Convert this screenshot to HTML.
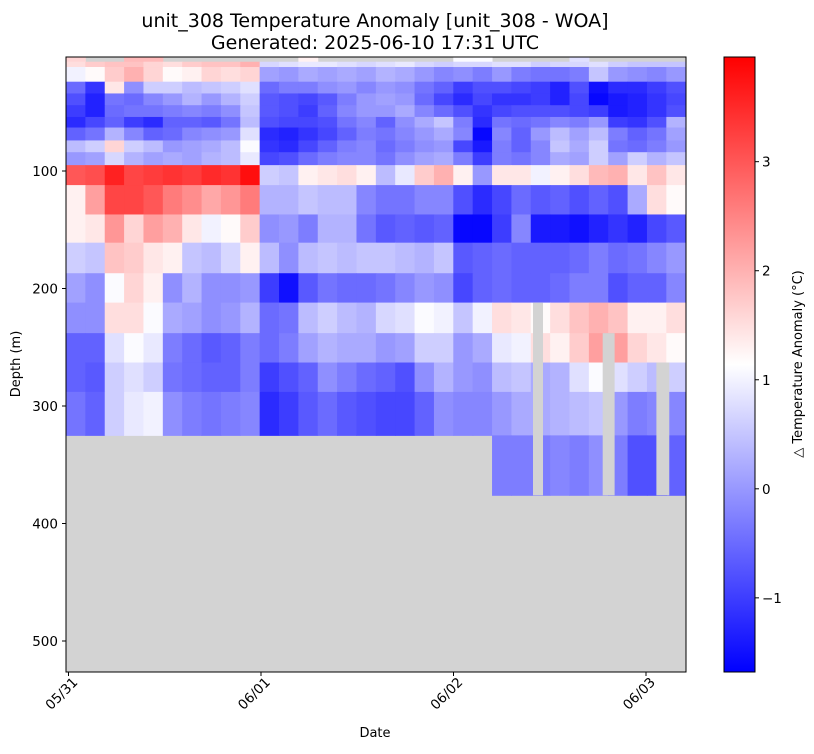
<!DOCTYPE html>
<html><head><meta charset="utf-8"><style>
body{margin:0;background:#fff;}
svg text{font-family:"DejaVu Sans","Liberation Sans",sans-serif;fill:#000;}
</style></head><body>
<svg id="chart" width="814" height="749" viewBox="0 0 814 749" xmlns="http://www.w3.org/2000/svg">
<text x="375" y="27" font-size="19" text-anchor="middle">unit_308 Temperature Anomaly [unit_308 - WOA]</text>
<text x="375" y="49" font-size="19" text-anchor="middle">Generated: 2025-06-10 17:31 UTC</text>
<rect x="66" y="57" width="620" height="615" fill="#d3d3d3"/>
<g id="cells"></g>
<g id="gaps"></g>
<rect x="66" y="57" width="620" height="615" fill="none" stroke="#000" stroke-width="1"/>
<g id="yaxis"></g>
<g id="xaxis"></g>
<text transform="translate(20,364) rotate(-90)" font-size="13" text-anchor="middle">Depth (m)</text>
<text x="375" y="737" font-size="13" text-anchor="middle">Date</text>
<defs><linearGradient id="bwr" x1="0" y1="1" x2="0" y2="0">
<stop offset="0" stop-color="#0000ff"/><stop offset="0.5" stop-color="#ffffff"/><stop offset="1" stop-color="#ff0000"/></linearGradient></defs>
<rect x="724" y="57" width="31" height="615" fill="url(#bwr)" stroke="#000" stroke-width="1"/>
<g id="cbaxis"></g>
<text transform="translate(802,364) rotate(-90)" font-size="13" text-anchor="middle">△ Temperature Anomaly (°C)</text>
</svg>
<script>
const depthEdges=[3,7,11.5,24,34,44,54,63,74,84,95,112,137,161,187,212,238,263,288,325,376];
const colStart=-0.013, colStep=0.1006;
const N=null;
const anomaly=[
[1.6,N,N,1.9,1.9,N,N,N,N,N,N,N,1.3,N,N,N,N,N,N,N,1.1,1.1,N,N,N,N,0.8,N,N,N,N,N],
[1.5,1.7,1.8,1.8,1.6,1.5,1.7,1.8,1.8,2.0,0.7,0.8,0.9,0.9,0.8,0.7,0.8,0.9,0.7,0.6,0.7,0.7,0.8,0.8,0.6,0.7,0.7,0.8,0.6,0.5,0.5,0.5],
[1.0,1.2,1.7,2.0,1.6,1.2,1.3,1.6,1.5,1.6,0.1,0.0,0.2,0.1,0.2,0.1,0.3,0.2,0.0,-0.2,-0.1,-0.3,0.0,-0.3,-0.4,-0.4,-0.3,0.5,0.0,-0.1,-0.2,0.0],
[-0.5,-1.1,1.4,-0.1,0.6,0.6,0.4,0.5,0.6,0.8,-0.5,-0.3,-0.3,-0.1,0.0,-0.2,0.0,-0.1,-0.4,-0.6,-1.0,-0.8,-0.8,-0.9,-1.0,-1.3,-0.8,-1.5,-1.2,-1.2,-1.0,-0.8],
[-0.8,-1.3,-0.4,-0.5,-0.2,0.0,0.3,0.0,0.3,0.6,-0.7,-0.8,-0.9,-0.7,-0.3,0.0,0.1,0.0,-0.5,-0.9,-1.2,-0.9,-1.1,-1.1,-1.0,-1.3,-0.9,-1.6,-1.4,-1.3,-1.1,-0.9],
[-1.0,-1.3,-0.5,-0.4,-0.4,-0.3,-0.2,-0.3,-0.1,0.5,-0.7,-0.8,-1.0,-0.6,-0.2,0.0,0.0,0.2,-0.2,-0.5,-0.8,-1.1,-0.9,-0.8,-0.8,-0.8,-0.9,-1.0,-1.4,-1.3,-1.1,-0.8],
[-1.2,-0.9,-0.6,-1.0,-1.2,-0.6,-0.6,-0.7,-0.4,0.4,-0.8,-0.9,-0.9,-0.8,-0.4,-0.2,-0.6,-0.1,0.2,0.5,-0.3,-1.2,-0.4,-0.5,-0.4,-0.2,-0.3,0.0,-1.0,-1.1,-0.8,0.3],
[-0.6,-0.4,0.3,-0.2,-0.6,-0.5,-0.2,-0.1,0.0,0.8,-1.2,-1.3,-1.1,-0.9,-0.6,-0.3,-0.4,-0.2,0.0,0.2,-0.2,-1.6,-0.2,-0.6,0.0,0.4,0.1,0.4,-0.3,-0.6,-0.4,0.1],
[0.4,0.6,1.6,0.6,0.4,0.0,0.1,0.2,0.4,1.1,-1.1,-1.2,-0.9,-0.6,-0.3,-0.2,-0.5,-0.3,-0.1,0.0,-0.9,-1.4,-0.3,-0.6,-0.2,0.5,0.2,0.6,-0.4,-0.5,-0.3,0.0],
[0.0,0.1,0.7,0.3,0.1,0.2,0.1,0.3,0.4,0.9,-0.9,-0.8,-0.5,-0.3,-0.2,-0.2,-0.4,-0.1,0.1,0.2,-0.3,-1.0,-0.3,-0.4,-0.2,0.2,0.1,0.6,0.1,0.6,0.3,0.5],
[3.0,3.1,3.6,3.2,3.3,3.4,3.3,3.5,3.4,3.8,0.6,0.5,1.3,1.4,1.5,1.3,0.4,0.9,1.7,2.0,1.3,0.0,1.4,1.4,1.0,1.3,1.5,1.9,2.0,1.4,1.8,1.4],
[1.3,2.2,3.2,3.2,3.0,2.6,2.4,2.1,2.3,2.6,0.3,0.3,0.5,0.4,0.4,-0.2,-0.4,-0.4,-0.2,-0.2,-0.8,-1.2,-0.9,-0.5,-0.7,-0.6,-0.8,-0.6,-0.8,0.2,1.5,1.2],
[1.3,1.4,2.3,1.6,2.2,2.0,1.4,1.0,1.2,1.7,-0.1,0.0,-0.3,0.3,0.3,-0.4,-0.7,-0.6,-0.7,-0.6,-1.6,-1.6,-1.0,-0.2,-1.4,-1.4,-1.5,-1.3,-1.1,-1.3,-0.9,-0.7],
[0.6,0.5,1.8,1.7,1.4,1.3,0.5,0.4,0.7,1.3,0.4,-0.1,0.4,0.5,0.4,0.5,0.5,0.4,0.3,0.5,-0.7,-0.6,-0.5,-0.6,-0.6,-0.6,-0.5,-0.3,-0.5,-0.4,-0.2,0.0],
[0.1,-0.1,1.1,1.6,1.3,-0.1,0.3,-0.1,-0.1,0.0,-1.0,-1.5,-0.7,-0.4,-0.5,-0.5,-0.4,-0.2,0.0,-0.1,-0.9,-0.6,-0.5,-0.6,-0.6,-0.5,-0.3,-0.3,-0.8,-0.6,-0.6,-0.2],
[-0.1,-0.1,1.5,1.5,1.1,0.2,0.1,-0.1,0.0,0.3,-0.5,-0.4,0.4,0.6,0.4,0.3,0.7,0.8,1.1,1.0,0.5,1.0,1.5,1.4,1.2,1.5,1.8,2.0,1.8,1.3,1.3,1.5],
[-0.6,-0.6,0.8,1.1,0.9,-0.3,-0.5,-0.7,-0.6,-0.3,-0.5,-0.3,0.1,0.3,0.2,0.2,0.0,0.1,0.6,0.6,0.0,0.2,0.9,1.0,1.5,1.3,1.7,2.2,2.2,1.6,1.4,1.2],
[-0.6,-0.7,0.6,0.8,0.6,-0.4,-0.5,-0.6,-0.6,-0.3,-1.0,-0.8,-0.6,-0.1,-0.3,-0.5,-0.6,-0.8,-0.1,0.3,0.0,-0.1,0.4,0.5,0.2,0.3,0.8,1.1,0.8,0.6,0.4,0.6],
[-0.4,-0.6,0.6,0.9,1.0,-0.1,-0.3,-0.4,-0.3,-0.2,-1.2,-1.0,-0.7,-0.5,-0.7,-0.8,-0.9,-0.9,-0.6,-0.1,-0.2,-0.2,0.0,0.2,0.2,0.3,0.4,0.5,0.0,-0.3,-0.2,-0.2],
[N,N,N,N,N,N,N,N,N,N,N,N,N,N,N,N,N,N,N,N,N,N,-0.3,-0.3,-0.3,-0.2,-0.3,-0.1,-0.3,-0.8,-0.8,-0.6]
];
const gapStart=[2.413,2.775,3.054];
const gapEnd=[2.465,2.837,3.121];
const gapDepth=[212,238,263];
const yTicks=[100,200,300,400,500];
const xTickTimes=[0,1,2,3];
const xTickLabels=["05/31","06/01","06/02","06/03"];
const cbTicks=[3,2,1,0,-1];
const vmin=-1.68, vmax=3.96;

const NS="http://www.w3.org/2000/svg";
const yOf=d=>53.5+d*1.175;
const xOf=t=>68.5+t*192.5;
const cbY=v=>672-(v-vmin)/(vmax-vmin)*615;
function color(v){
  let t=(v-vmin)/(vmax-vmin); t=Math.max(0,Math.min(1,t));
  let r,g,b;
  if(t<0.5){r=g=Math.round(2*t*255);b=255;}else{r=255;g=b=Math.round(2*(1-t)*255);}
  return `rgb(${r},${g},${b})`;
}
function mk(tag,attrs,parent){const e=document.createElementNS(NS,tag);for(const k in attrs)e.setAttribute(k,attrs[k]);parent.appendChild(e);return e;}
const cells=document.getElementById('cells');
for(let r=0;r<anomaly.length;r++){
  for(let c=0;c<anomaly[r].length;c++){
    const v=anomaly[r][c]; if(v===null)continue;
    const x0=xOf(colStart+c*colStep), x1=xOf(colStart+(c+1)*colStep);
    const y0=yOf(depthEdges[r]), y1=yOf(depthEdges[r+1]);
    const el=mk('rect',{x:x0,y:y0,width:x1-x0+0.5,height:y1-y0+0.5,fill:color(v)},cells);
    
    
  }
}
const gaps=document.getElementById('gaps');
for(let i=0;i<gapStart.length;i++){
  const el=mk('rect',{x:xOf(gapStart[i]),y:yOf(gapDepth[i]),width:xOf(gapEnd[i])-xOf(gapStart[i]),height:yOf(376)-yOf(gapDepth[i]),fill:'#d3d3d3'},gaps);
  
  
}
const ya=document.getElementById('yaxis');
yTicks.forEach(d=>{
  const y=yOf(d);
  const l=mk('line',{x1:62,x2:66,y1:y,y2:y,stroke:'#000'},ya);
  
  
  const t=mk('text',{x:58,y:y+5,'font-size':13.5,'text-anchor':'end'},ya);t.textContent=d;
  
  
});
const xa=document.getElementById('xaxis');
xTickTimes.forEach((tt,i)=>{
  const x=xOf(tt);
  const l=mk('line',{x1:x,x2:x,y1:672,y2:676,stroke:'#000'},xa);
  
  
  const ax=x+10, ay=683;
  const t=mk('text',{x:ax,y:ay,'font-size':13.5,'text-anchor':'end',transform:`rotate(-45 ${ax} ${ay})`},xa);t.textContent=xTickLabels[i];
  
  
});
const cb=document.getElementById('cbaxis');
cbTicks.forEach(v=>{
  const y=cbY(v);
  const l=mk('line',{x1:755,x2:759,y1:y,y2:y,stroke:'#000'},cb);
  
  
  const t=mk('text',{x:762,y:y+5,'font-size':13.5},cb);t.textContent=v<0?'−'+Math.abs(v):v;
  
  
});
</script>
</body></html>
